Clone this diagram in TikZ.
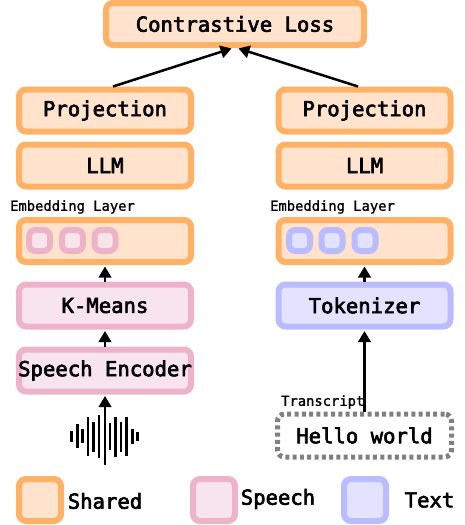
\documentclass[tikz,border=0pt]{standalone}
\usepackage{fontspec}
\usetikzlibrary{arrows.meta}
\newfontfamily\monob[FakeBold=3]{DejaVu Sans Mono}
\newfontfamily\monor[FakeBold=1.2]{DejaVu Sans Mono}
\definecolor{shS}{HTML}{FFB266}\definecolor{shF}{HTML}{FFE3CC}
\definecolor{spS}{HTML}{EDB3C8}\definecolor{spF}{HTML}{F8E4EC}
\definecolor{txS}{HTML}{BBBBFF}\definecolor{txF}{HTML}{E3E3FF}
\tikzset{
 box/.style={rectangle,rounded corners=7pt,line width=6pt,inner sep=0pt,minimum width=172pt,minimum height=42pt,font=\monob\fontsize{20.6pt}{24pt}\selectfont,text=black},
 shared/.style={box,draw=shS,fill=shF},
 speech/.style={box,draw=spS,fill=spF},
 textbox/.style={box,draw=txS,fill=txF},
 cell/.style={minimum width=21pt,minimum height=21pt,rounded corners=6.5pt},
 swatch/.style={minimum width=42pt,minimum height=42pt},
 small/.style={inner sep=0pt,font=\monor\fontsize{13.8pt}{16pt}\selectfont,anchor=west},
 legend/.style={inner sep=0pt,font=\monob\fontsize{20.6pt}{24pt}\selectfont},
 conn/.style={line width=2.5pt,-{Triangle[length=11pt,width=12.5pt]},shorten >=1.5pt},
 bar/.style={line width=2.8pt,black},
}
\begin{document}
\begin{tikzpicture}[x=1pt,y=-1pt]
\useasboundingbox (0,0) rectangle (465,525);
\node[shared,minimum width=258pt] (loss) at (235,24) {Contrastive Loss};
\node[shared] (proj1) at (105,110.5) {Projection};
\node[shared] (llm1) at (105,165.5) {LLM};
\node[small] (emb1lab) at (10,207) {Embedding Layer};
\node[shared] (emb1) at (105,241) {};
\node[speech] (km) at (105,305.5) {K-Means};
\node[speech,inner xsep=-5pt] (enc) at (105,370.5) {Speech Encoder};
\node[shared] (proj2) at (364.5,110.5) {Projection};
\node[shared] (llm2) at (364.5,165.5) {LLM};
\node[small] (emb2lab) at (270,207) {Embedding Layer};
\node[shared] (emb2) at (364.5,241) {};
\node[textbox] (tok) at (364.5,305.5) {Tokenizer};
\node[small] (trlab) at (281,402) {Transcript};
\node[box,draw=black!50,line width=5pt,dash pattern=on 4pt off 3.3pt,minimum width=174pt,minimum height=43pt] (hello) at (364.5,435.5) {Hello world};
\node[speech,cell] (c1) at (39.5,240.5) {};
\node[speech,cell] (c2) at (72.5,240.5) {};
\node[speech,cell] (c3) at (105,240.5) {};
\node[textbox,cell] (d1) at (299.5,240.5) {};
\node[textbox,cell] (d2) at (332,240.5) {};
\node[textbox,cell] (d3) at (365,240.5) {};
\node[shared,swatch] (s1) at (40,500) {};
\node[speech,swatch] (s2) at (214,500) {};
\node[textbox,swatch] (s3) at (365,500) {};
\node[legend] (l1) at (105,501) {Shared};
\node[legend] (l2) at (278,499) {Speech};
\node[legend] (l3) at (429.5,500) {Text};
% waveform
\foreach \x/\a/\b in {71.3/431/442,77.3/424/448,82.7/429/443,88/417/456,93.7/422/452,99/415/458,110/423/450,115.3/417/457,121/422/452,126.7/417/456,132.3/429/444,137.7/432/441}
  \draw[bar] (\x,\a) -- (\x,\b);
\coordinate (wave) at (105,465);
\draw[conn] (wave) -- (enc.south);
\draw[conn] (enc.north) -- (km.south);
\draw[conn] (km.north) -- (emb1.south);
\draw[conn] (hello.north) -- (tok.south);
\draw[conn] (tok.north) -- (emb2.south);
\draw[conn] ([xshift=8pt]proj1.north) -- ([xshift=-2pt]loss.south);
\draw[conn] ([xshift=-6.5pt]proj2.north) -- ([xshift=2pt]loss.south);
\end{tikzpicture}
\end{document}
